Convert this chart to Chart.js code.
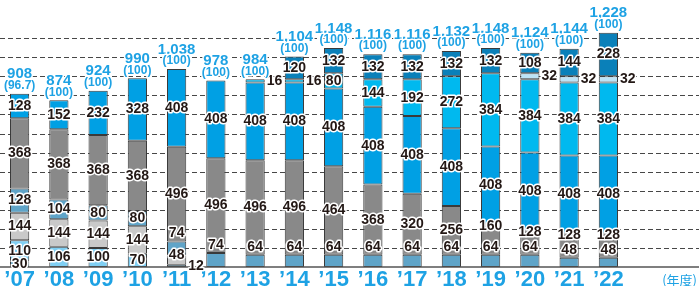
<!DOCTYPE html>
<html>
<head>
<meta charset="utf-8">
<script src="https://cdn.jsdelivr.net/npm/chart.js@4/dist/chart.umd.min.js"></script>
<style>
html,body{margin:0;padding:0;background:#fff;}
#wrap{width:699px;height:286px;position:relative;}
</style>
</head>
<body>
<div id="wrap"><canvas id="c" width="699" height="286"></canvas></div>
<script>
const years = ["’07","’08","’09","’10","’11","’12","’13","’14","’15","’16","’17","’18","’19","’20","’21","’22"];
const seriesA = [30,0,0,0,0,0,0,0,0,0,0,0,0,0,0,0];
const seriesB = [110,106,100,70,12,0,0,0,0,0,0,0,0,0,0,0];
const seriesC = [144,144,144,144,48,0,0,0,0,0,0,0,0,0,0,0];
const seriesD = [128,104,80,80,74,74,64,64,64,64,64,64,64,64,48,48];
const seriesE = [368,368,368,368,496,496,496,496,464,368,320,256,160,128,128,128];
const seriesF = [128,152,232,328,408,408,408,408,408,408,408,408,408,408,408,408];
const seriesG = [0,0,0,0,0,0,16,16,80,144,192,272,384,384,384,384];
const seriesH = [0,0,0,0,0,0,0,0,0,0,0,0,0,32,32,32];
const seriesI = [0,0,0,0,0,0,0,120,132,132,132,132,132,108,144,228];
const ratios = [96.7,100,100,100,100,100,100,100,100,100,100,100,100,100,100,100];
const gridValues = [100,200,300,400,500,600,700,800,900,1000,1100,1200];
const unitLabel = "(年度)";

const BLUE_TXT = '#1ea2e4';
const nz = a => a.map(v => v === 0 ? null : v);
const mk = (data, color, rule) => ({
  data: nz(data), raw: data, backgroundColor: color, borderColor: '#3a3a3a',
  borderWidth: 1, borderSkipped: false, labelRule: rule || 'center',
  categoryPercentage: 1, barPercentage: 0.49
});

const datasets = [
  mk(seriesA, '#5fa4c8'),
  mk(seriesB, '#80cff3'),
  mk(seriesC, '#c9c9c9', 'lowEdge'),
  mk(seriesD, '#5fa4c8', 'lowAbove'),
  mk(seriesE, '#898989', 'greyEdge'),
  mk(seriesF, '#00a0e4'),
  mk(seriesG, '#00b9ef'),
  mk(seriesH, '#bde3f6', 'side'),
  mk(seriesI, '#0a80b9')
];

const gridPlugin = {
  id: 'grid',
  beforeDatasetsDraw(chart) {
    const ctx = chart.ctx, y = chart.scales.y;
    ctx.save();
    ctx.strokeStyle = '#474747';
    ctx.lineWidth = 1;
    ctx.setLineDash([5, 3]);
    gridValues.forEach(v => {
      const py = Math.round(y.getPixelForValue(v)) + 0.5;
      ctx.beginPath(); ctx.moveTo(0, py); ctx.lineTo(chart.width, py); ctx.stroke();
    });
    ctx.restore();
  },
  afterDatasetsDraw(chart) {
    const ctx = chart.ctx, y = chart.scales.y, x = chart.scales.x;
    ctx.save();
    const by = y.getPixelForValue(0);
    ctx.strokeStyle = '#555';
    ctx.lineWidth = 1.5;
    ctx.beginPath(); ctx.moveTo(0, by); ctx.lineTo(chart.width, by); ctx.stroke();

    ctx.font = 'bold 14px "Liberation Sans", Arial, sans-serif';
    ctx.lineJoin = 'round';
    ctx.textBaseline = 'middle';
    chart.data.datasets.forEach((ds, di) => {
      const meta = chart.getDatasetMeta(di);
      meta.data.forEach((bar, i) => {
        const v = ds.raw[i];
        if (!v) return;
        const top = Math.min(bar.y, bar.base), bottom = Math.max(bar.y, bar.base);
        let px = bar.x, py = (top + bottom) / 2, align = 'center';
        const rule = ds.labelRule;
        if (v < 20 || rule === 'side') { px = bar.x + bar.width / 2 + 2; align = 'left'; }
        else if (rule === 'lowAbove' && v < 78) { py = top - 8; }
        else if (rule === 'lowEdge' && v < 60) { py = top; }
        else if (rule === 'greyEdge' && v <= 160) { py = top + 2; }
        ctx.textAlign = align;
        ctx.lineWidth = 3; ctx.strokeStyle = '#fff';
        ctx.strokeText(String(v), px, py);
        ctx.fillStyle = '#231815';
        ctx.fillText(String(v), px, py);
      });
    });

    years.forEach((yr, i) => {
      let total = 0;
      chart.data.datasets.forEach(ds => { total += ds.raw[i]; });
      const topPx = y.getPixelForValue(total);
      const cx = x.getPixelForValue(i);
      ctx.textAlign = 'center';
      ctx.font = 'bold 15px "Liberation Sans", Arial, sans-serif';
      const t = total.toLocaleString('en-US');
      ctx.lineWidth = 3; ctx.strokeStyle = '#fff';
      ctx.strokeText(t, cx, topPx - 19.5);
      ctx.fillStyle = BLUE_TXT;
      ctx.fillText(t, cx, topPx - 19.5);
      ctx.font = 'bold 12px "Liberation Sans", Arial, sans-serif';
      const r = '(' + ratios[i] + ')';
      ctx.strokeText(r, cx, topPx - 8);
      ctx.fillText(r, cx, topPx - 8);
    });

    ctx.font = '13px "Noto Sans CJK JP", sans-serif';
    ctx.textAlign = 'right';
    ctx.fillStyle = BLUE_TXT;
    ctx.fillText(unitLabel, 697, 280);
    ctx.restore();
  }
};

new Chart(document.getElementById('c'), {
  type: 'bar',
  data: { labels: years, datasets },
  options: {
    responsive: false,
    devicePixelRatio: 1,
    animation: false,
    layout: { padding: { left: 0, right: 71, top: 0, bottom: 0 } },
    plugins: { legend: { display: false }, tooltip: { enabled: false } },
    scales: {
      x: {
        stacked: true,
        offset: true,
        grid: { display: false, drawTicks: false },
        border: { display: false },
        ticks: {
          padding: 0,
          color: BLUE_TXT,
          font: { family: '"Liberation Sans Narrow", "Liberation Sans", sans-serif', size: 22, weight: 'bold', lineHeight: 1.2 },
          maxRotation: 0, autoSkip: false
        },
        afterFit(scale) { scale.height = 19; }
      },
      y: {
        stacked: true,
        display: false,
        min: 0, max: 1400,
        ticks: { stepSize: 100 }
      }
    }
  },
  plugins: [gridPlugin]
});
</script>
</body>
</html>
